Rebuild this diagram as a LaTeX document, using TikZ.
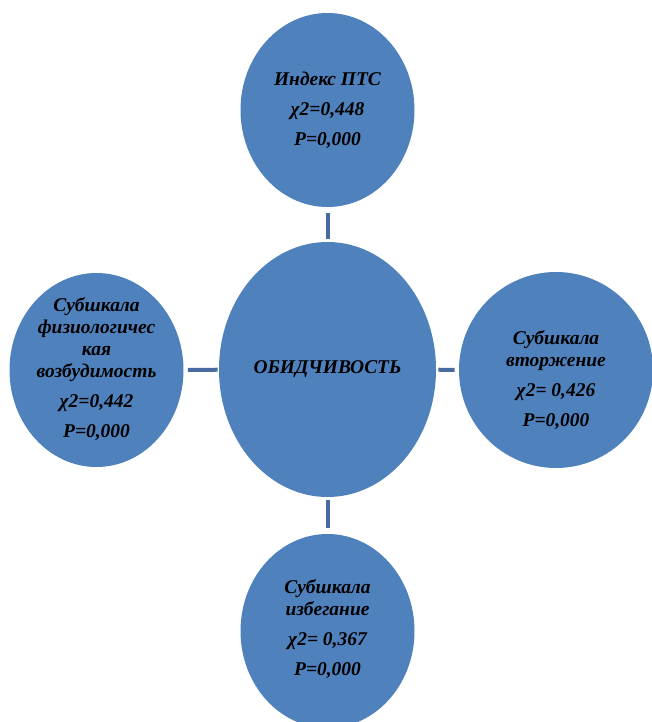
\documentclass[tikz,border=0pt]{standalone}
\usepackage{fontspec}
\setmainfont{Liberation Serif}
\usetikzlibrary{shapes.geometric}
\definecolor{blob}{RGB}{79,129,189}
\definecolor{linkc}{RGB}{72,108,160}
\begin{document}
\begin{tikzpicture}[x=0.75pt,y=-0.75pt,font=\bfseries\itshape\fontsize{14.6}{16.5}\selectfont,
	bub/.style={ellipse,fill=blob,inner sep=0pt,minimum width=130.5pt,minimum height=145.5pt},
	txt/.style={align=center,inner sep=0pt},
	link/.style={draw=linkc,line width=3pt}]
	\useasboundingbox (0,0) rectangle (651,722);
	\node[bub,minimum width=162.75pt,minimum height=191.25pt] (O) at (327.5,369.5) {};
	\node[bub] (T) at (327.5,110) {};
	\node[bub] (L) at (96.5,370) {};
	\node[bub,minimum width=145.5pt,minimum height=147pt] (R) at (556,370) {};
	\node[bub] (B) at (327.5,631) {};
	\node[txt] at (O) {ОБИДЧИВОСТЬ};
	\node[txt] at (T) {Индекс ПТС\\[6pt]χ2=0,448\\[6pt]P=0,000};
	\node[txt] at (96.5,369) {Субшкала\\физиологичес\\кая\\возбудимость\\[6pt]χ2=0,442\\[6pt]P=0,000};
	\node[txt] at (556,380) {Субшкала\\вторжение\\[6pt]χ2= 0,426\\[6pt]P=0,000};
	\node[txt] at (327.5,629.5) {Субшкала\\избегание\\[6pt]χ2= 0,367\\[6pt]P=0,000};
	\foreach \a/\b/\s/\e in {T/O/4.5pt/2.25pt, L/O/3pt/0.75pt, O/R/1.5pt/3pt, O/B/2.25pt/4.5pt}{
		\draw[link,shorten <=\s,shorten >=\e] (\a) -- (\b);
	}
\end{tikzpicture}
\end{document}
